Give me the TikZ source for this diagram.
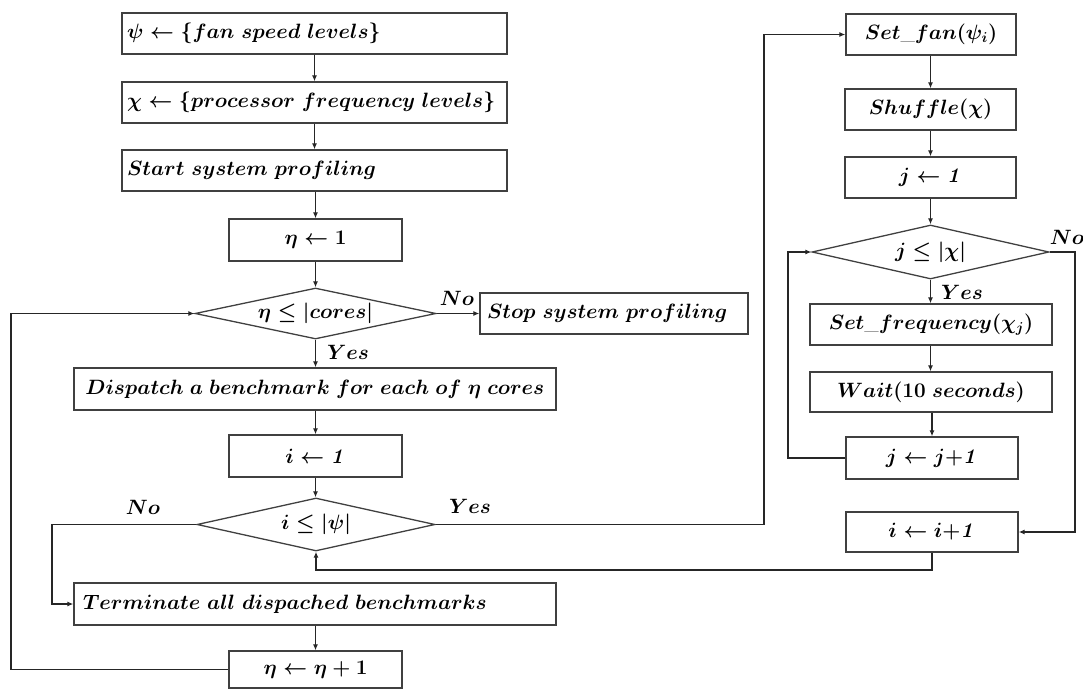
\documentclass[tikz,border=0pt]{standalone}
\usepackage{amsmath}
\usetikzlibrary{shapes.geometric,arrows.meta}

\tikzset{
  lbl/.style={font=\fontsize{20.74}{24}\selectfont\boldmath, inner sep=0pt},
  procbox/.style={draw=black!75, line width=1.3pt, minimum height=41, inner sep=0pt, lbl},
  cond/.style={diamond, draw=black!75, line width=1.3pt, aspect=4.6, inner sep=0pt, lbl},
  flow/.style={draw=black!85, line width=1.3pt, -{Latex[length=6pt,width=5pt]}},
}

\begin{document}
\begin{tikzpicture}[x=1pt,y=-1pt]
\useasboundingbox (0,0) rectangle (1083,688);

% main loop over core counts
\node[procbox, minimum width=385, text width=375, align=left] (psi) at (314.5,33.5) {$\psi \leftarrow \{fan\ speed\ levels\}$};
\node[procbox, minimum width=385, text width=375, align=left] (chi) at (314.5,102.5) {$\chi \leftarrow \{processor\ frequency\ levels\}$};
\node[procbox, minimum width=385, text width=375, align=left] (start) at (314.5,170.5) {$Start\ system\ profiling$};
\node[procbox, minimum width=173, minimum height=42] (eta1) at (315.5,240) {$\eta \leftarrow 1$};
\node[cond, minimum width=241, minimum height=51] (dcores) at (315.5,313.5) {$\eta \leq |cores|$};
\node[procbox, minimum width=268, text width=254, align=left] (stop) at (614,313.5) {$Stop\ system\ profiling$};
\node[procbox, minimum width=482, minimum height=42] (disp) at (315,389) {$Dispatch\ a\ benchmark\ for\ each\ of\ \eta\ cores$};
\node[procbox, minimum width=173, minimum height=42] (i1) at (315.5,456) {$i \leftarrow \mathit{1}$};
\node[cond, minimum width=238, minimum height=53] (dpsi) at (316,524.5) {$i \leq |\psi|$};
\node[procbox, minimum width=482, minimum height=42, text width=464, align=left] (term) at (315,604) {$Terminate\ all\ dispached\ benchmarks$};
\node[procbox, minimum width=173, minimum height=37] (etainc) at (315.5,669.5) {$\eta \leftarrow \eta + 1$};

% inner loops over fan speeds and frequencies
\node[procbox, minimum width=170] (setfan) at (931,34.5) {$Set\_fan(\psi_i)$};
\node[procbox, minimum width=171] (shuf) at (930.5,109.5) {$Shuffle(\chi)$};
\node[procbox, minimum width=171] (j1) at (930.5,177.5) {$j \leftarrow \mathit{1}$};
\node[cond, minimum width=237, minimum height=54] (dchi) at (930.5,252) {$j \leq |\chi|$};
\node[procbox, minimum width=242] (setfreq) at (931,324.5) {$Set\_frequency(\chi_j)$};
\node[procbox, minimum width=242, minimum height=40] (wait) at (931,392) {$Wait(10\ seconds)$};
\node[procbox, minimum width=172, minimum height=42] (jinc) at (932,458) {$j \leftarrow j{+}\mathit{1}$};
\node[procbox, minimum width=172, minimum height=40] (iinc) at (932,532) {$i \leftarrow i{+}\mathit{1}$};

% branch labels
\node[lbl] (nocores) at (457,298) {$No$};
\node[lbl] (yescores) at (348,352) {$Yes$};
\node[lbl] (nopsi) at (143,507) {$No$};
\node[lbl] (yespsi) at (470,506) {$Yes$};
\node[lbl] (yeschi) at (962,292) {$Yes$};
\node[lbl] (nochi) at (1067,237) {$No$};

% route points
\coordinate (loopL) at (11,0);
\coordinate (noL) at (52,0);
\coordinate (yesR) at (764,0);
\coordinate (jL) at (788,0);
\coordinate (noR) at (1075,0);
\coordinate (backY) at (0,570);

% connectors
\draw[flow] (psi) -- (chi);
\draw[flow] (chi) -- (start);
\draw[flow] (start.south -| eta1) -- (eta1);
\draw[flow] (eta1) -- (dcores);
\draw[flow] (dcores) -- (stop);
\draw[flow] (dcores) -- (disp.north -| dcores);
\draw[flow] (disp.south -| i1) -- (i1);
\draw[flow] (i1) -- (dpsi.north -| i1);
\draw[flow] (dpsi.west) -- (dpsi.west -| noL) -- (term.west -| noL) -- (term.west);
\draw[flow] (dpsi.east) -- (dpsi.east -| yesR) -- (setfan.west -| yesR) -- (setfan.west);
\draw[flow] (term.south -| etainc) -- (etainc);
\draw[flow] (etainc.west) -- (etainc.west -| loopL) -- (dcores.west -| loopL) -- (dcores.west);

\draw[flow] (setfan.south -| shuf) -- (shuf);
\draw[flow] (shuf) -- (j1);
\draw[flow] (j1) -- (dchi);
\draw[flow] (dchi) -- (setfreq.north -| dchi);
\draw[flow] (setfreq.south -| dchi) -- (wait.north -| dchi);
\draw[flow] (wait.south -| jinc) -- (jinc);
\draw[flow] (jinc.west) -- (jinc.west -| jL) -- (dchi.west -| jL) -- (dchi.west);
\draw[flow] (dchi.east) -- (dchi.east -| noR) -- (iinc.east -| noR) -- (iinc.east);
\draw[flow] (iinc.south) -- (iinc.south |- backY) -- (backY -| dpsi) -- (dpsi.south);
\end{tikzpicture}
\end{document}
